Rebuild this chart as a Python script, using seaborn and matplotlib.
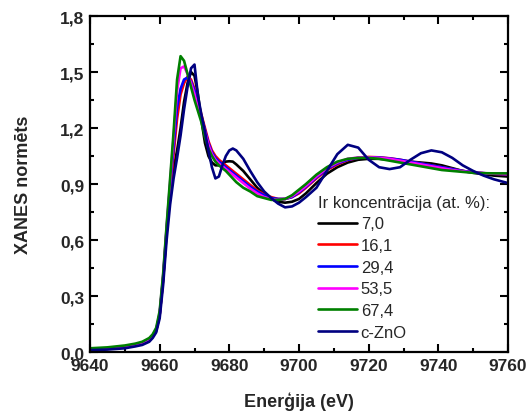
import numpy as np
import pandas as pd
import matplotlib
matplotlib.use("Agg")
import matplotlib.pyplot as plt
from matplotlib.ticker import MultipleLocator, FuncFormatter
import seaborn as sns

# Photon energy grid (eV)
energy = [9640, 9645, 9650, 9653, 9655, 9657, 9658, 9659, 9660, 9661,
          9662, 9663, 9664, 9665, 9666, 9667, 9668, 9669, 9670, 9671,
          9672, 9673, 9674, 9675, 9676, 9677, 9678, 9679, 9680, 9681,
          9682, 9684, 9686, 9688, 9690, 9692, 9694, 9696, 9698, 9700,
          9702, 9705, 9708, 9711, 9714, 9717, 9720, 9723, 9726, 9729,
          9732, 9735, 9738, 9741, 9744, 9747, 9750, 9753, 9756, 9760]

# Normalised XANES for each Ir concentration and the c-ZnO reference
xanes_7_0 = [0.012, 0.018, 0.028, 0.038, 0.048, 0.067, 0.087, 0.115, 0.20, 0.39,
             0.64, 0.85, 0.98, 1.08, 1.20, 1.34, 1.44, 1.50, 1.48, 1.38,
             1.24, 1.12, 1.05, 1.015, 1.00, 1.00, 1.01, 1.02, 1.022, 1.02,
             1.005, 0.97, 0.925, 0.88, 0.845, 0.82, 0.805, 0.80, 0.805, 0.82,
             0.85, 0.905, 0.955, 0.99, 1.015, 1.03, 1.035, 1.035, 1.03, 1.025,
             1.02, 1.015, 1.01, 1.0, 0.985, 0.97, 0.96, 0.952, 0.945, 0.94]
xanes_16_1 = [0.012, 0.018, 0.028, 0.038, 0.048, 0.067, 0.087, 0.115, 0.20, 0.39,
              0.65, 0.87, 1.06, 1.25, 1.38, 1.44, 1.475, 1.46, 1.41, 1.34,
              1.27, 1.20, 1.13, 1.08, 1.05, 1.03, 1.015, 1.0, 0.985, 0.97,
              0.955, 0.925, 0.895, 0.865, 0.845, 0.83, 0.82, 0.82, 0.83, 0.85,
              0.88, 0.93, 0.975, 1.005, 1.028, 1.04, 1.045, 1.043, 1.038, 1.03,
              1.02, 1.01, 1.0, 0.99, 0.98, 0.97, 0.963, 0.958, 0.955, 0.953]
xanes_29_4 = [0.012, 0.018, 0.028, 0.038, 0.048, 0.067, 0.087, 0.115, 0.20, 0.40,
              0.66, 0.89, 1.10, 1.31, 1.41, 1.46, 1.47, 1.45, 1.40, 1.33,
              1.26, 1.19, 1.12, 1.07, 1.04, 1.02, 1.005, 0.99, 0.975, 0.96,
              0.945, 0.915, 0.885, 0.86, 0.84, 0.825, 0.82, 0.82, 0.83, 0.855,
              0.885, 0.935, 0.98, 1.01, 1.03, 1.04, 1.043, 1.042, 1.037, 1.03,
              1.02, 1.01, 1.0, 0.99, 0.98, 0.97, 0.963, 0.958, 0.955, 0.953]
xanes_53_5 = [0.015, 0.02, 0.03, 0.04, 0.05, 0.07, 0.09, 0.12, 0.21, 0.41,
              0.67, 0.91, 1.15, 1.40, 1.52, 1.53, 1.49, 1.44, 1.38, 1.31,
              1.25, 1.18, 1.11, 1.06, 1.03, 1.01, 0.995, 0.98, 0.965, 0.95,
              0.935, 0.905, 0.875, 0.85, 0.83, 0.82, 0.815, 0.82, 0.835, 0.86,
              0.89, 0.94, 0.985, 1.015, 1.035, 1.042, 1.043, 1.04, 1.035, 1.025,
              1.015, 1.005, 0.995, 0.985, 0.975, 0.968, 0.962, 0.958, 0.955, 0.953]
xanes_67_4 = [0.02, 0.025, 0.035, 0.045, 0.055, 0.075, 0.095, 0.13, 0.22, 0.42,
              0.68, 0.93, 1.18, 1.46, 1.585, 1.56, 1.49, 1.42, 1.35, 1.29,
              1.23, 1.15, 1.09, 1.05, 1.02, 1.00, 0.985, 0.97, 0.95, 0.93,
              0.91, 0.88, 0.86, 0.835, 0.825, 0.815, 0.815, 0.82, 0.84, 0.87,
              0.90, 0.95, 0.99, 1.02, 1.035, 1.04, 1.04, 1.035, 1.025, 1.015,
              1.005, 0.995, 0.985, 0.975, 0.97, 0.965, 0.96, 0.958, 0.957, 0.957]
xanes_c_zno = [0.01, 0.013, 0.02, 0.03, 0.038, 0.055, 0.075, 0.105, 0.18, 0.36,
               0.60, 0.79, 0.93, 1.04, 1.16, 1.30, 1.42, 1.52, 1.54, 1.37,
               1.27, 1.18, 1.08, 0.99, 0.93, 0.94, 1.0, 1.05, 1.08, 1.09,
               1.08, 1.035, 0.97, 0.91, 0.86, 0.825, 0.795, 0.775, 0.78, 0.80,
               0.83, 0.88, 0.97, 1.06, 1.11, 1.095, 1.03, 0.99, 0.98, 0.99,
               1.03, 1.065, 1.08, 1.07, 1.04, 1.0, 0.97, 0.945, 0.925, 0.905]

series_labels = ["7,0", "16,1", "29,4", "53,5", "67,4", "c-ZnO"]
series_values = [xanes_7_0, xanes_16_1, xanes_29_4, xanes_53_5, xanes_67_4, xanes_c_zno]
series_colors = ["#000000", "#ff0000", "#0000ff", "#ff00ff", "#008000", "#000080"]

x_ticks = [9640, 9660, 9680, 9700, 9720, 9740, 9760]
y_ticks = [0.0, 0.3, 0.6, 0.9, 1.2, 1.5, 1.8]

df = pd.concat(
    [pd.DataFrame({"E": energy, "mu": vals, "sample": lab})
     for lab, vals in zip(series_labels, series_values)],
    ignore_index=True,
)

sns.set_theme(style="white")
plt.rcParams["font.family"] = ["Liberation Sans", "DejaVu Sans"]

fig = plt.figure(figsize=(5.26, 4.14), dpi=100)
ax = fig.add_axes([0.1711, 0.1473, 0.7947, 0.8116])

sns.lineplot(data=df, x="E", y="mu", hue="sample", hue_order=series_labels,
             palette=dict(zip(series_labels, series_colors)),
             linewidth=1.9, sort=True, estimator=None, ax=ax, legend=False)

ax.set_xlim(9640, 9760)
ax.set_ylim(0.0, 1.8)
ax.set_xticks(x_ticks)
ax.set_yticks(y_ticks)
ax.xaxis.set_minor_locator(MultipleLocator(10))
ax.yaxis.set_minor_locator(MultipleLocator(0.15))
ax.yaxis.set_major_formatter(FuncFormatter(lambda v, p: f"{v:.1f}".replace(".", ",")))
ax.xaxis.set_major_formatter(FuncFormatter(lambda v, p: f"{int(round(v))}"))

for s in ax.spines.values():
    s.set_visible(True)
    s.set_color("black")
    s.set_linewidth(1.6)

ax.tick_params(which="both", direction="in", top=True, right=True,
               bottom=True, left=True, color="black", width=1.5)
ax.tick_params(which="major", length=5.5, labelsize=12.5)
ax.tick_params(axis="x", which="major", pad=4.5)
ax.tick_params(axis="y", which="major", pad=4)
ax.tick_params(which="minor", length=3)
for lab in ax.get_xticklabels() + ax.get_yticklabels():
    lab.set_fontweight("bold")

ax.set_xlabel("Enerģija (eV)", fontsize=13, fontweight="bold", labelpad=13)
ax.set_ylabel("XANES normēts", fontsize=13, fontweight="bold", labelpad=20)

handles = [plt.Line2D([], [], color=c, lw=1.9) for c in series_colors]
leg = ax.legend(handles, series_labels, title="Ir koncentrācija (at. %):",
                loc="upper left", bbox_to_anchor=(0.53, 0.488), frameon=False,
                fontsize=12, title_fontsize=12, handlelength=2.3,
                handletextpad=0.25, labelspacing=0.4, borderaxespad=0,
                alignment="left")

fig.savefig("out.png", dpi=100)
